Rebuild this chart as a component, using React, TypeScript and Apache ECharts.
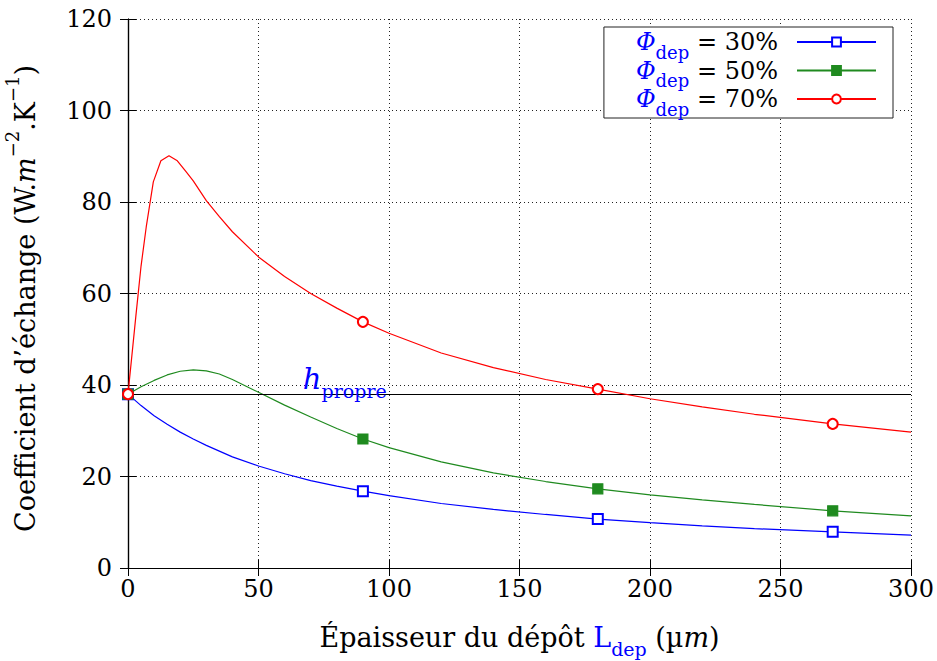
import React, { useEffect, useRef } from "react";
import * as echarts from "echarts";

const xTicks = [0, 50, 100, 150, 200, 250, 300];
const markerX = [0, 90, 180, 270];

const blueX = [0, 5, 10, 15, 20, 25, 30, 40, 50, 60, 70, 80, 90, 100, 120, 140, 160, 180, 200, 220, 240, 270, 300];
const blueY = [38, 35.5, 33.3, 31.4, 29.7, 28.2, 26.8, 24.3, 22.3, 20.6, 19.1, 17.9, 16.8, 15.8, 14.1, 12.8, 11.7, 10.7, 9.9, 9.2, 8.6, 7.9, 7.2];

const greenX = [0, 5, 10, 15, 20, 25, 30, 35, 40, 50, 60, 70, 80, 90, 100, 120, 140, 160, 180, 200, 220, 240, 270, 300];
const greenY = [38, 39.6, 41, 42.2, 43, 43.3, 43.1, 42.4, 41.2, 38.4, 35.6, 33, 30.5, 28.2, 26.3, 23.2, 20.8, 18.9, 17.3, 16.0, 14.9, 13.9, 12.5, 11.4];

const redX = [0, 3, 5, 7, 9.7, 12.6, 15.7, 18.9, 22, 25, 30, 35, 40, 50, 60, 70, 80, 90, 100, 120, 140, 160, 180, 200, 220, 240, 270, 300];
const redY = [38, 55, 66, 74.6, 84.4, 89, 90.1, 89, 86.8, 84.6, 80.3, 76.8, 73.5, 68, 63.7, 60, 56.8, 53.8, 51.3, 47, 43.8, 41.2, 39.1, 37, 35.2, 33.6, 31.5, 29.7];

const hPropre = 38;
const hLabelX = 67;

const seriesNames = ["30%", "50%", "70%"];
const colors = ["#0000ff", "#1f8a1f", "#ff0000"];
const symbols = ["emptyRect", "rect", "emptyCircle"];

const FONT = "DejaVu Serif";

function buildData(xs: number[], ys: number[], sym: string) {
  return xs.map((x, i) =>
    markerX.includes(x)
      ? { value: [x, ys[i]], symbol: sym, symbolSize: 10 }
      : { value: [x, ys[i]], symbol: "none", symbolSize: 0 }
  );
}

export default function App() {
  const ref = useRef<HTMLDivElement>(null);
  useEffect(() => {
    if (!ref.current) return;
    const chart = echarts.init(ref.current, null, { renderer: "svg" });
    const allX = [blueX, greenX, redX];
    const allY = [blueY, greenY, redY];
    const gridLine = { show: true, lineStyle: { color: "#222", type: [1, 3] as any, width: 1 } };
    const series: any[] = seriesNames.map((n, i) => ({
      name: n,
      type: "line",
      data: buildData(allX[i], allY[i], symbols[i]),
      symbol: symbols[i],
      symbolSize: 10,
      showAllSymbol: true,
      color: colors[i],
      lineStyle: { color: colors[i], width: 1.2 },
      itemStyle: { color: colors[i], borderColor: colors[i], borderWidth: 1.2 },
      z: 3 + i,
      clip: false,
    }));
    series[0].markLine = {
      silent: true,
      symbol: "none",
      lineStyle: { color: "#000", type: "solid", width: 1.2 },
      label: { show: false },
      data: [{ yAxis: hPropre }],
    };
    series[0].markPoint = {
      silent: true,
      symbol: "circle",
      symbolSize: 0,
      data: [{ coord: [hLabelX, hPropre] }],
      label: {
        show: true,
        position: [0, -1],
        align: "left",
        verticalAlign: "bottom",
        formatter: "{h|h}{s|propre}",
        rich: {
          h: { fontFamily: FONT, fontStyle: "italic", fontSize: 29, color: "#0000ff", verticalAlign: "bottom" },
          s: { fontFamily: FONT, fontSize: 19, color: "#0000ff", verticalAlign: "bottom", padding: [0, 0, -7, 0] },
        },
      },
    };
    chart.setOption({
      animation: false,
      backgroundColor: "#fff",
      grid: { left: 128, right: 26, top: 19, bottom: 93, outerBoundsMode: "none", containLabel: false },
      legend: {
        right: 44,
        top: 27,
        orient: "vertical",
        align: "right",
        backgroundColor: "#fff",
        borderColor: "#222",
        borderWidth: 1,
        borderRadius: 0,
        padding: [3, 16, 0, 32],
        itemGap: -2.5,
        itemWidth: 79,
        itemHeight: 11,
        data: seriesNames,
        formatter: (n: string) => `{phi|Φ}{sub|dep}{eq| = ${n}}`,
        textStyle: {
          padding: [0, 14, 0, 0],
          rich: {
            phi: { fontFamily: FONT, fontStyle: "italic", fontSize: 24, color: "#0000ff" },
            sub: { fontFamily: FONT, fontSize: 18, color: "#0000ff", verticalAlign: "bottom", padding: [0, 0, -7, 0] },
            eq: { fontFamily: FONT, fontSize: 24, color: "#000" },
          },
        },
      },
      xAxis: [
        {
          type: "value",
          min: 0,
          max: 300,
          interval: 50,
          name: "Épaisseur du dépôt {L|L}{sub|dep} (µ{i|m})",
          nameLocation: "middle",
          nameGap: 56,
          nameTextStyle: {
            fontFamily: FONT,
            fontSize: 27,
            color: "#000",
            rich: {
              L: { fontFamily: FONT, fontSize: 27, color: "#0000ff" },
              sub: { fontFamily: FONT, fontSize: 19, color: "#0000ff", verticalAlign: "bottom", padding: [0, 0, -7, 0] },
              i: { fontFamily: FONT, fontSize: 27, fontStyle: "italic", color: "#000" },
            },
          },
          axisLine: { show: true, lineStyle: { color: "#000", width: 1.2 } },
          axisTick: { show: true, inside: true, length: 8, lineStyle: { color: "#000" } },
          axisLabel: { fontFamily: FONT, fontSize: 24, color: "#000", margin: 9 },
          splitLine: gridLine,
        },
        {
          type: "value",
          position: "top",
          min: 0,
          max: 300,
          interval: 50,
          axisLine: { show: true, lineStyle: { color: "#000", width: 1.2 } },
          axisTick: { show: true, inside: true, length: 8, lineStyle: { color: "#000" } },
          axisLabel: { show: false },
          splitLine: { show: false },
        },
      ],
      yAxis: [
        {
          type: "value",
          min: 0,
          max: 120,
          interval: 20,
          name: "Coefficient d’échange (W.{i|m}{sup|−2}.K{sup|−1})",
          nameLocation: "middle",
          nameGap: 89,
          nameTextStyle: {
            fontFamily: FONT,
            fontSize: 27,
            color: "#000",
            padding: [0, 10, 0, 0],
            rich: {
              i: { fontFamily: FONT, fontSize: 27, fontStyle: "italic", color: "#000" },
              sup: { fontFamily: FONT, fontSize: 18, color: "#000", verticalAlign: "top", padding: [-9, 0, 0, 0] },
            },
          },
          axisLine: { show: true, lineStyle: { color: "#000", width: 1.2 } },
          axisTick: { show: true, inside: true, length: 8, lineStyle: { color: "#000" } },
          axisLabel: { fontFamily: FONT, fontSize: 24, color: "#000", margin: 16 },
          splitLine: gridLine,
        },
        {
          type: "value",
          position: "right",
          min: 0,
          max: 120,
          interval: 20,
          axisLine: { show: true, lineStyle: { color: "#000", width: 1.2 } },
          axisTick: { show: true, inside: true, length: 8, lineStyle: { color: "#000" } },
          axisLabel: { show: false },
          splitLine: { show: false },
        },
      ],
      series,
    });
    return () => chart.dispose();
  }, []);
  return (
    <div
      ref={ref}
      style={{ position: "fixed", left: 0, top: 0, width: 937, height: 661, background: "#fff" }}
    />
  );
}
